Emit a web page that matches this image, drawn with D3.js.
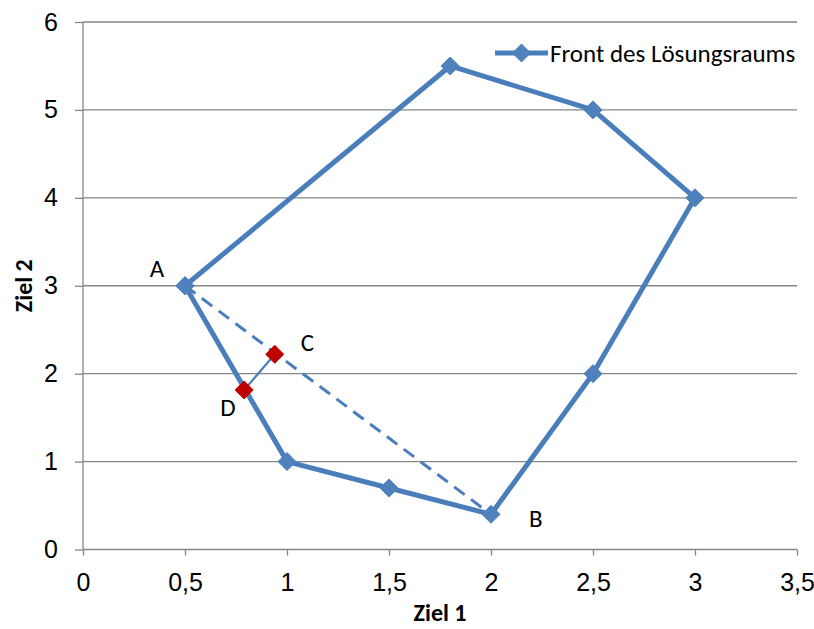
<!DOCTYPE html>
<html><head><meta charset="utf-8">
<script src="https://cdn.jsdelivr.net/npm/d3@7"></script>
<style>
html,body{margin:0;padding:0;background:#fff;}
svg{display:block;font-family:Carlito,Calibri,Lato,sans-serif;}
</style></head>
<body><svg id="c" width="814" height="629"></svg>
<script>
// Data
const frontX = [0.5, 1.8, 2.5, 3.0, 2.5, 2.0, 1.5, 1.0, 0.5];
const frontY = [3.0, 5.5, 5.0, 4.0, 2.0, 0.4, 0.7, 1.0, 3.0];
const dashX = [0.5, 2.0];
const dashY = [3.0, 0.4];
const redX = [0.79, 0.94];
const redY = [1.815, 2.22];
const labelText = ["A", "B", "C", "D"];
const labelX = [0.363, 2.22, 1.10, 0.71];
const labelY = [3.2, 0.35, 2.35, 1.61];
const xTicks = [0, 0.5, 1, 1.5, 2, 2.5, 3, 3.5];
const xTickLabels = ["0", "0,5", "1", "1,5", "2", "2,5", "3", "3,5"];
const yTicks = [0, 1, 2, 3, 4, 5, 6];
const yTickLabels = ["0", "1", "2", "3", "4", "5", "6"];
const seriesName = "Front des Lösungsraums";
const xTitle = "Ziel 1", yTitle = "Ziel 2";

const svg = d3.select("#c");
const x = d3.scaleLinear().domain([0, 3.5]).range([83, 797]);
const y = d3.scaleLinear().domain([0, 6]).range([549.5, 22]);
const blue = "#4A7EBB", blueM = "#4F81BD", red = "#C00000", grid = "#868686";
const fs = 25;

// gridlines
svg.append("g").selectAll("line").data(yTicks.filter(d => d > 0)).join("line")
  .attr("x1", x(0)).attr("x2", x(3.5)).attr("y1", d => y(d)).attr("y2", d => y(d))
  .attr("stroke", grid).attr("stroke-width", 1.3);

// x axis
const xAxis = d3.axisBottom(x).tickValues(xTicks).tickSize(6).tickPadding(18)
  .tickFormat((d, i) => xTickLabels[i]);
const gx = svg.append("g").attr("transform", `translate(0,${y(0)})`).call(xAxis);
gx.select(".domain").attr("stroke", grid).attr("stroke-width", 1.3).attr("d", `M${x(0)},0H${x(3.5)}`);
gx.selectAll(".tick line").attr("stroke", grid).attr("stroke-width", 1.3);
gx.selectAll("text").attr("font-size", fs).attr("fill", "#000").attr("font-family", null);

// y axis
const yAxis = d3.axisLeft(y).tickValues(yTicks).tickSize(8).tickPadding(17)
  .tickFormat((d, i) => yTickLabels[i]);
const gy = svg.append("g").attr("transform", `translate(${x(0)},0)`).call(yAxis);
gy.select(".domain").attr("stroke", grid).attr("stroke-width", 1.3).attr("d", `M0,${y(0)}V${y(6)}`);
gy.selectAll(".tick line").attr("stroke", grid).attr("stroke-width", 1.3);
gy.selectAll("text").attr("font-size", fs).attr("fill", "#000").attr("font-family", null);

// axis titles
svg.append("text").attr("x", (x(0) + x(3.5)) / 2 - 0).attr("y", 621).attr("text-anchor", "middle")
  .attr("font-weight", "bold").attr("font-size", fs - 1).text(xTitle);
svg.append("text").attr("transform", `translate(32,${(y(0) + y(6)) / 2}) rotate(-90)`)
  .attr("text-anchor", "middle").attr("font-weight", "bold").attr("font-size", fs - 1).text(yTitle);

const line = d3.line().x(d => x(d[0])).y(d => y(d[1]));
const diamond = (s) => `M0,${-s}L${s},0L0,${s}L${-s},0Z`;

// dashed line A-B
svg.append("path").attr("d", line(d3.zip(dashX, dashY))).attr("fill", "none")
  .attr("stroke", blue).attr("stroke-width", 3).attr("stroke-dasharray", "13,8");

// front series
const frontPts = d3.zip(frontX, frontY);
svg.append("path").attr("d", line(frontPts)).attr("fill", "none")
  .attr("stroke", blue).attr("stroke-width", 5).attr("stroke-linejoin", "round");
svg.append("g").selectAll("path").data(frontPts).join("path")
  .attr("transform", d => `translate(${x(d[0])},${y(d[1])})`).attr("d", diamond(9))
  .attr("fill", blueM).attr("stroke", blue).attr("stroke-width", 1);

// D-C line and red markers
const redPts = d3.zip(redX, redY);
svg.append("path").attr("d", line(redPts)).attr("fill", "none").attr("stroke", blue).attr("stroke-width", 2.2);
svg.append("g").selectAll("path").data(redPts).join("path")
  .attr("transform", d => `translate(${x(d[0])},${y(d[1])})`).attr("d", diamond(9))
  .attr("fill", red).attr("stroke", red).attr("stroke-width", 1);

// point labels
svg.append("g").selectAll("text").data(labelText).join("text")
  .attr("x", (d, i) => x(labelX[i])).attr("y", (d, i) => y(labelY[i]))
  .attr("text-anchor", "middle").attr("dominant-baseline", "central")
  .attr("font-size", fs).text(d => d);

// legend
const lg = svg.append("g").attr("transform", "translate(495,53)");
lg.append("line").attr("x1", 0).attr("x2", 53).attr("stroke", blue).attr("stroke-width", 5);
lg.append("path").attr("transform", "translate(26.5,0)").attr("d", diamond(9)).attr("fill", blueM).attr("stroke", blue);
lg.append("text").attr("x", 55).attr("y", 0).attr("dominant-baseline", "central").attr("font-size", fs).text(seriesName);
</script></body></html>
